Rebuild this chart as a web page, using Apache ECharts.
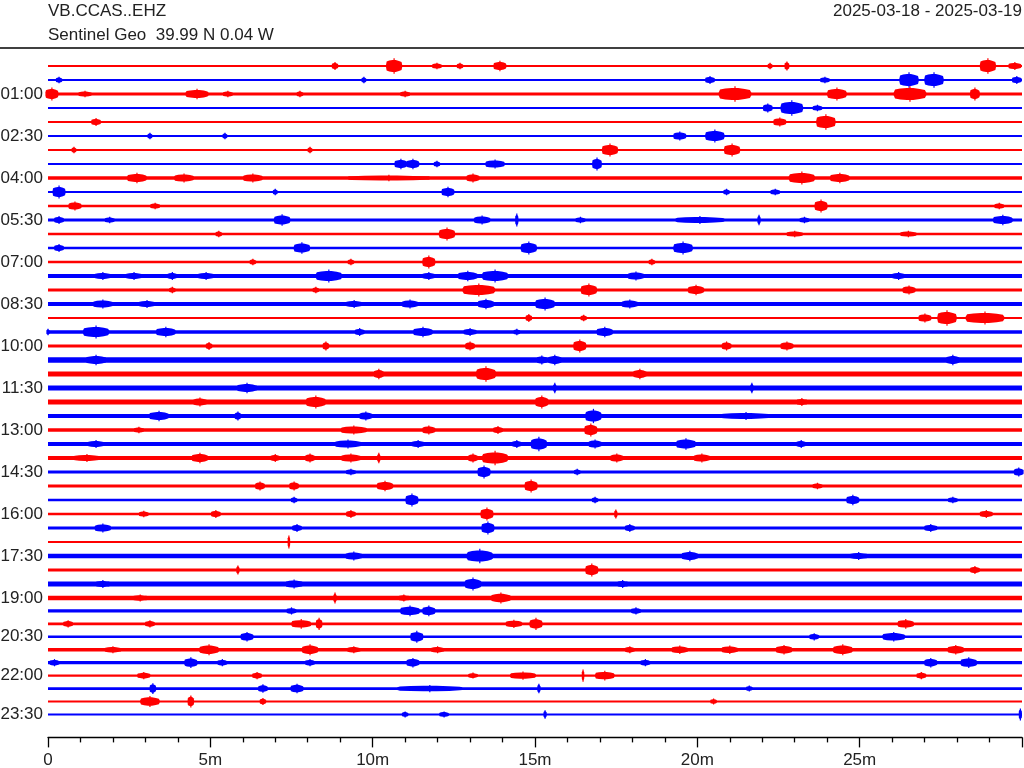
<!DOCTYPE html>
<html>
<head>
<meta charset="utf-8">
<script src="https://cdn.jsdelivr.net/npm/echarts@6/dist/echarts.min.js"></script>
<style>html,body{margin:0;padding:0;background:#fff}#c{width:1024px;height:768px}</style>
</head>
<body>
<div id="c"></div>
<script>
// ---- data ----
var stationName = 'VB.CCAS..EHZ';
var stationInfo = 'Sentinel Geo  39.99 N 0.04 W';
var dateRange = '2025-03-18 - 2025-03-19';
// one trace per half hour: 48 rows
var rowLabels = ['00:00','00:30','01:00','01:30','02:00','02:30','03:00','03:30','04:00','04:30','05:00','05:30',
  '06:00','06:30','07:00','07:30','08:00','08:30','09:00','09:30','10:00','10:30','11:00','11:30',
  '12:00','12:30','13:00','13:30','14:00','14:30','15:00','15:30','16:00','16:30','17:00','17:30',
  '18:00','18:30','19:00','19:30','20:00','20:30','21:00','21:30','22:00','22:30','23:00','23:30'];
var xTickLabels = ['0','5m','10m','15m','20m','25m'];
// background noise half-amplitude of each trace (amplitude counts)
var traceNoise = [1.1,1.1,1.4,1.1,1.1,1.1,1.1,1.1,1.7,1.1,1.2,1.6,
  1.2,1.3,1.2,2.0,1.4,2.0,1.1,1.8,1.6,2.8,2.6,2.4,
  2.4,2.0,1.8,2.0,2.0,1.5,1.5,1.3,1.3,1.6,1.0,2.2,
  1.6,2.4,2.4,1.8,1.6,1.4,1.8,1.8,1.3,1.5,1.1,1.0];
// events: [trace, minute, peak half-amplitude (counts), duration (minutes)]
var events = [
 [0,8.84,3,0.2],[0,10.66,6,0.5],[0,11.98,2.5,0.3],[0,12.69,2.5,0.2],[0,13.92,4,0.4],[0,22.24,2.5,0.15],[0,22.76,3.5,0.15],[0,28.95,6,0.5],[0,29.78,3,0.4],
 [1,0.34,2.5,0.2],[1,9.73,2.5,0.15],[1,20.39,3,0.3],[1,23.93,2.5,0.3],[1,26.52,6,0.6],[1,27.29,6,0.6],[1,29.84,3,0.3],
 [2,0.12,5,0.4],[2,1.14,2.5,0.4],[2,4.59,4,0.7],[2,5.54,2.5,0.3],[2,7.76,2.5,0.2],[2,11.0,2.5,0.3],[2,21.16,6,1.0],[2,24.3,5,0.6],[2,26.55,6,1.0],[2,28.55,5,0.3],
 [3,22.17,3.5,0.3],[3,22.91,6,0.7],[3,23.7,2.5,0.3],
 [4,1.48,3,0.3],[4,22.54,3.5,0.4],[4,23.96,6,0.6],
 [5,3.14,2.5,0.15],[5,5.45,2.5,0.15],[5,19.46,3.5,0.4],[5,20.54,5,0.6],
 [6,0.8,2.5,0.15],[6,8.07,2.5,0.15],[6,17.31,5,0.5],[6,21.07,5,0.5],
 [7,10.87,4,0.4],[7,11.24,4,0.4],[7,11.98,2.5,0.2],[7,13.77,3.5,0.6],[7,16.91,5,0.3],
 [8,2.74,4,0.6],[8,4.19,3.5,0.6],[8,6.31,3.5,0.6],[8,10.5,2.5,2.5],[8,13.09,3.5,0.4],[8,23.22,5,0.8],[8,24.39,4,0.6],
 [9,0.34,5,0.4],[9,7.0,2.5,0.15],[9,12.32,4,0.4],[9,20.9,2.5,0.2],[9,22.4,2.5,0.3],
 [10,0.83,3.5,0.4],[10,3.3,2.5,0.3],[10,23.81,5,0.4],[10,29.3,2.5,0.3],
 [11,0.34,3,0.3],[11,1.9,2.5,0.3],[11,7.21,4.5,0.5],[11,13.37,3.5,0.5],[11,14.44,5,0.1],[11,16.4,2.5,0.3],[11,20.08,3,1.5],[11,21.9,4,0.1],[11,23.3,2.5,0.3],[11,29.41,4,0.6],
 [12,5.26,2.5,0.2],[12,12.29,5,0.5],[12,23.0,2.5,0.5],[12,26.5,2.5,0.5],
 [13,0.34,3,0.3],[13,7.82,4.5,0.5],[13,14.81,5,0.5],[13,19.56,5,0.6],
 [14,6.31,2.5,0.2],[14,9.33,2.5,0.2],[14,11.73,5,0.4],[14,18.6,2.5,0.2],
 [15,1.69,3,0.5],[15,2.65,3,0.5],[15,3.83,3,0.3],[15,4.87,3,0.5],[15,8.65,5,0.8],[15,11.73,3,0.4],[15,12.93,4,0.6],[15,13.77,5,0.8],[15,18.11,3.5,0.5],[15,26.2,3,0.4],
 [16,3.83,2.5,0.2],[16,8.25,2.5,0.2],[16,13.27,5,1.0],[16,16.66,5,0.5],[16,19.96,4,0.5],[16,26.52,3.5,0.4],
 [17,1.69,3.5,0.6],[17,3.05,3,0.5],[17,9.43,3,0.5],[17,11.15,3.5,0.5],[17,13.49,4,0.5],[17,15.31,5,0.6],[17,17.92,3.5,0.5],
 [18,14.81,3,0.2],[18,16.5,2.5,0.2],[18,27.01,3.5,0.4],[18,27.69,6,0.6],[18,28.86,5,1.2],
 [19,0.0,2.5,0.1],[19,1.48,5,0.8],[19,3.63,4,0.6],[19,9.6,3,0.3],[19,11.55,4,0.6],[19,13.0,3,0.4],[19,14.44,2.5,0.2],[19,17.15,4,0.5],
 [20,4.96,3,0.2],[20,8.56,3.5,0.2],[20,13.0,3.5,0.3],[20,16.38,5,0.4],[20,20.9,3.5,0.3],[20,22.76,3.5,0.4],
 [21,1.48,4,0.6],[21,15.21,3.5,0.3],[21,15.61,4,0.4],[21,27.87,4,0.4],
 [22,10.19,4,0.3],[22,13.49,6,0.6],[22,18.23,4,0.4],
 [23,6.13,4,0.6],[23,15.61,4,0.1],[23,21.68,4,0.1],
 [24,4.68,3.5,0.4],[24,8.25,5,0.6],[24,15.21,5,0.4],[24,23.22,3,0.3],
 [25,3.42,4,0.6],[25,5.85,3.5,0.2],[25,9.79,3.5,0.4],[25,16.8,5.5,0.5],[25,21.5,3,1.5],
 [26,2.8,2.5,0.3],[26,9.42,3.5,0.8],[26,11.73,3.5,0.4],[26,13.86,3,0.3],[26,16.72,5,0.4],
 [27,1.48,3,0.5],[27,9.24,3.5,0.8],[27,11.4,3,0.4],[27,14.44,3,0.3],[27,15.12,5.5,0.5],[27,16.85,3.5,0.4],[27,19.65,4.5,0.6],[27,23.2,3,0.3],
 [28,1.2,3,0.8],[28,4.68,4,0.5],[28,7.0,3,0.3],[28,8.07,3.5,0.3],[28,9.33,3.5,0.6],[28,10.19,4,0.1],[28,13.09,3.5,0.3],[28,13.77,5.5,0.8],[28,17.52,3.5,0.4],[28,20.14,3.5,0.5],
 [29,9.33,2.5,0.3],[29,13.43,5,0.4],[29,16.3,2.5,0.2],[29,29.9,3.5,0.3],
 [30,6.53,3.5,0.3],[30,7.58,3.5,0.3],[30,10.38,4,0.5],[30,14.88,5,0.4],[30,23.7,2.5,0.3],
 [31,7.58,2.5,0.2],[31,11.21,5,0.4],[31,16.85,2.5,0.2],[31,24.79,4,0.4],[31,27.87,2.5,0.3],
 [32,2.95,2.5,0.3],[32,5.17,3,0.3],[32,9.33,3,0.3],[32,13.52,5,0.4],[32,17.49,3.5,0.1],[32,28.9,3,0.4],
 [33,1.69,3.5,0.5],[33,7.67,3,0.3],[33,13.55,5,0.4],[33,17.92,3,0.3],[33,27.19,3,0.4],
 [34,7.42,5,0.08],
 [35,9.42,3.5,0.5],[35,13.3,5.5,0.8],[35,19.77,4,0.5],[35,24.97,3,0.5],
 [36,5.85,3.5,0.1],[36,16.75,5,0.4],[36,28.55,3,0.3],
 [37,1.69,3,0.4],[37,7.58,3.5,0.5],[37,13.09,5,0.5],[37,17.7,3,0.3],
 [38,2.84,3,0.4],[38,8.84,4.5,0.1],[38,10.96,3,0.3],[38,13.95,4.5,0.6],
 [39,7.5,3,0.3],[39,11.15,4.5,0.6],[39,11.73,4.5,0.4],[39,18.11,3,0.3],
 [40,0.62,3,0.3],[40,3.14,3,0.3],[40,7.8,4,0.6],[40,8.35,5,0.2],[40,14.35,3.5,0.5],[40,15.03,5,0.4],[40,26.42,4,0.5],
 [41,6.13,4,0.4],[41,11.36,5,0.4],[41,23.6,3,0.3],[41,26.05,4,0.7],
 [42,2.0,3,0.5],[42,4.96,4.5,0.6],[42,8.07,4.5,0.5],[42,9.42,3,0.4],[42,12.0,3,0.4],[42,17.92,3,0.3],[42,19.46,3.5,0.5],[42,21.0,3.5,0.5],[42,22.67,4,0.5],[42,24.48,4.5,0.6],[42,27.96,4,0.5],
 [43,0.2,3,0.3],[43,4.4,4.5,0.4],[43,5.37,3,0.3],[43,8.07,3,0.3],[43,11.24,4,0.4],[43,18.4,3,0.3],[43,27.19,4,0.4],[43,28.36,4.5,0.5],
 [44,2.95,3,0.4],[44,6.44,3,0.3],[44,13.09,2.5,0.3],[44,14.63,3.5,0.8],[44,16.48,5,0.08],[44,17.15,4,0.6],[44,26.9,3,0.3],
 [45,3.23,4.5,0.2],[45,6.62,3.5,0.3],[45,7.67,4,0.4],[45,11.76,3,2.0],[45,15.12,4,0.1],[45,21.6,2.5,0.2],
 [46,3.14,4.5,0.6],[46,4.4,5,0.2],[46,6.62,3,0.2],[46,20.5,2.5,0.2],
 [47,11.0,2.5,0.2],[47,12.2,2.5,0.3],[47,15.31,3.5,0.1],[47,29.95,5,0.1]
];

// ---- layout / style ----
var COLORS = ['#ff0000', '#0000ff'];
var REF_SPACING = 14; // amplitude counts are pixels at this row spacing
var SPLIT = 38;       // rows >= SPLIT live in the lower grid
var FONT = '"Liberation Sans", Arial, sans-serif';
var FS = 17;
// burst outline: [fraction of duration from centre, fraction of peak]
var SHAPE = [[-0.5, 0], [-0.46, 0.75], [-0.3, 0.9], [-0.1, 1], [0.1, 1], [0.3, 0.85], [0.46, 0.65], [0.5, 0]];

function rowColor(i) { return COLORS[i % 2]; }
function scaleOf(api) { return Math.abs(api.size([0, 1])[1]) / REF_SPACING; }

function renderBase(params, api) {
  var row = api.value(1), n = api.value(2);
  var s = scaleOf(api);
  var p0 = api.coord([0, row]), p1 = api.coord([30, row]);
  var h = Math.max(1, n * s);
  return { type: 'rect', shape: { x: p0[0], y: p0[1] - h, width: p1[0] - p0[0], height: 2 * h },
    style: { fill: rowColor(row) } };
}
function renderEvent(params, api) {
  var row = api.value(0), m = api.value(1), a = api.value(2), d = api.value(3);
  var s = scaleOf(api);
  var n = traceNoise[row];
  var top = [], bot = [];
  SHAPE.forEach(function (q) {
    var c = api.coord([m + q[0] * d, row]);
    var amp = Math.max(n, q[1] * a) * s;
    top.push([c[0], c[1] - amp]);
    bot.unshift([c[0], c[1] + amp]);
  });
  var c0 = api.coord([m, row]);
  return { type: 'group', children: [
    { type: 'polygon', shape: { points: top.concat(bot) }, style: { fill: rowColor(row) } },
    { type: 'line', shape: { x1: c0[0], y1: c0[1] - a * 1.3 * s, x2: c0[0], y2: c0[1] + a * 1.3 * s },
      style: { stroke: rowColor(row), lineWidth: 1.2 } }
  ] };
}

var baseA = [], baseB = [], evA = [], evB = [];
traceNoise.forEach(function (n, i) { (i < SPLIT ? baseA : baseB).push([0, i, n]); });
events.forEach(function (e) { (e[0] < SPLIT ? evA : evB).push(e); });

function yLabel(v) {
  if (v >= 2 && (v - 2) % 3 === 0 && v <= 47) return rowLabels[v];
  return '';
}

var yLabelStyle = { formatter: yLabel, fontSize: FS, fontFamily: FONT, color: '#222', margin: 5, padding: [6, 0, 0, 0] };
var yAxisCommon = {
  type: 'value', inverse: true, interval: 1,
  axisLine: { show: false }, axisTick: { show: false }, splitLine: { show: false },
  axisLabel: yLabelStyle
};

var chart = echarts.init(document.getElementById('c'), null, { renderer: 'canvas' });
chart.setOption({
  animation: false,
  backgroundColor: '#fff',
  grid: [
    { left: 48, right: 2, top: 52, height: 546, outerBoundsMode: 'none', containLabel: false },
    { left: 48, right: 2, top: 598, height: 122.9, outerBoundsMode: 'none', containLabel: false }
  ],
  xAxis: [
    { gridIndex: 0, type: 'value', min: 0, max: 30, interval: 5, show: false },
    { gridIndex: 1, type: 'value', min: 0, max: 30, interval: 5, position: 'bottom', offset: 16.5,
      axisLine: { show: true, onZero: false, lineStyle: { color: '#000', width: 1.3 } },
      axisTick: { show: true, length: 10, lineStyle: { color: '#000', width: 1.3 } },
      minorTick: { show: true, splitNumber: 5, length: 5, lineStyle: { color: '#000', width: 1.3 } },
      splitLine: { show: false },
      axisLabel: { showMaxLabel: false, fontSize: FS, fontFamily: FONT, color: '#222', margin: 14,
        formatter: function (v) { return v % 5 === 0 && v / 5 < xTickLabels.length ? xTickLabels[v / 5] : ''; } }
    }
  ],
  yAxis: [
    Object.assign({}, yAxisCommon, { gridIndex: 0, min: -1, max: 38 }),
    Object.assign({}, yAxisCommon, { gridIndex: 1, min: 38, max: 47.5,
      axisLabel: Object.assign({}, yLabelStyle, { showMinLabel: false }) })
  ],
  series: [
    { type: 'custom', xAxisIndex: 0, yAxisIndex: 0, clip: false, data: baseA, encode: { x: 0, y: 1 }, renderItem: renderBase },
    { type: 'custom', xAxisIndex: 1, yAxisIndex: 1, clip: false, data: baseB, encode: { x: 0, y: 1 }, renderItem: renderBase },
    { type: 'custom', xAxisIndex: 0, yAxisIndex: 0, clip: false, data: evA, encode: { x: 1, y: 0 }, renderItem: renderEvent },
    { type: 'custom', xAxisIndex: 1, yAxisIndex: 1, clip: false, data: evB, encode: { x: 1, y: 0 }, renderItem: renderEvent }
  ],
  graphic: [
    { type: 'text', x: 48, y: 11, style: { text: stationName, font: FS + 'px ' + FONT, fill: '#222', textVerticalAlign: 'middle' } },
    { type: 'text', x: 48, y: 35, style: { text: stationInfo, font: FS + 'px ' + FONT, fill: '#222', textVerticalAlign: 'middle' } },
    { type: 'text', x: 1022, y: 11, style: { text: dateRange, font: FS + 'px ' + FONT, fill: '#222', textAlign: 'right', textVerticalAlign: 'middle' } },
    { type: 'line', shape: { x1: 0, y1: 48, x2: 1024, y2: 48 }, style: { stroke: '#000', lineWidth: 1.3 } }
  ]
});
</script>
</body>
</html>
